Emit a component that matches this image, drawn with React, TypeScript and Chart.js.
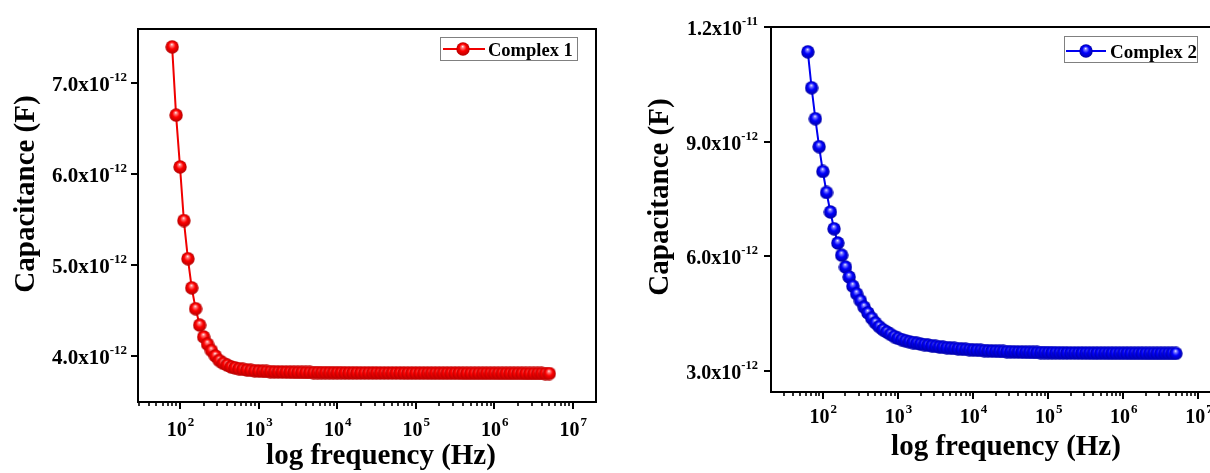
import React, { useEffect, useRef } from "react";
import { Chart, registerables } from "chart.js";

Chart.register(...registerables);

// ---------- DATA ----------
// Measurement frequencies (Hz), log sweep
const frequencyHz = [
  63.1, 70.8, 79.4, 89.1, 100, 112, 126, 141, 158, 178,
  200, 224, 251, 282, 316, 355, 398, 447, 501, 562,
  631, 708, 794, 891, 1000, 1122, 1259, 1413, 1585, 1778,
  1995, 2239, 2512, 2818, 3162, 3548, 3981, 4467, 5012, 5623,
  6310, 7079, 7943, 8913, 10000, 11220, 12589, 14125, 15849, 17783,
  19953, 22387, 25119, 28184, 31623, 35481, 39811, 44668, 50119, 56234,
  63096, 70795, 79433, 89125, 100000, 112202, 125893, 141254, 158489, 177828,
  199526, 223872, 251189, 281838, 316228, 354813, 398107, 446684, 501187, 562341,
  630957, 707946, 794328, 891251, 1000000, 1122018, 1258925, 1412538, 1584893, 1778279,
  1995262, 2238721, 2511886, 2818383, 3162278, 3548134, 3981072, 4466836, 5011872,
];

// Complex 1 capacitance (pF), starting at frequencyHz[2]
const complex1CapPF = [
  7.40, 6.65, 6.08, 5.49, 5.07, 4.75, 4.52, 4.34, 4.21, 4.13,
  4.06, 4.00, 3.95, 3.92, 3.90, 3.88, 3.87, 3.86, 3.853, 3.847,
  3.842, 3.838, 3.835, 3.832, 3.830, 3.828, 3.826, 3.825, 3.824, 3.823,
  3.822, 3.821, 3.820, 3.820, 3.819, 3.819, 3.818, 3.818, 3.817, 3.817,
  3.817, 3.816, 3.816, 3.816, 3.815, 3.815, 3.815, 3.815, 3.814, 3.814,
  3.814, 3.814, 3.814, 3.813, 3.813, 3.813, 3.813, 3.813, 3.813, 3.812,
  3.812, 3.812, 3.812, 3.812, 3.812, 3.812, 3.811, 3.811, 3.811, 3.811,
  3.811, 3.811, 3.811, 3.811, 3.810, 3.810, 3.810, 3.810, 3.810, 3.810,
  3.810, 3.810, 3.810, 3.809, 3.809, 3.809, 3.809, 3.809, 3.809, 3.809,
  3.808, 3.808, 3.808, 3.808, 3.808, 3.807, 3.807,
];
const complex1StartIndex = 2;

// Complex 2 capacitance (pF), starting at frequencyHz[0]
const complex2CapPF = [
  11.35, 10.41, 9.60, 8.87, 8.22, 7.67, 7.16, 6.72, 6.35, 6.03,
  5.72, 5.46, 5.22, 5.02, 4.84, 4.67, 4.52, 4.38, 4.26, 4.16,
  4.08, 4.02, 3.96, 3.90, 3.855, 3.82, 3.79, 3.765, 3.745, 3.725,
  3.705, 3.69, 3.675, 3.66, 3.645, 3.632, 3.62, 3.61, 3.60, 3.59,
  3.582, 3.574, 3.566, 3.559, 3.552, 3.546, 3.54, 3.534, 3.529, 3.524,
  3.519, 3.515, 3.511, 3.507, 3.503, 3.50, 3.497, 3.494, 3.491, 3.489,
  3.487, 3.485, 3.483, 3.481, 3.479, 3.477, 3.476, 3.475, 3.474, 3.473,
  3.472, 3.471, 3.470, 3.469, 3.468, 3.468, 3.467, 3.467, 3.466, 3.466,
  3.465, 3.465, 3.465, 3.464, 3.464, 3.464, 3.463, 3.463, 3.463, 3.463,
  3.462, 3.462, 3.462, 3.462, 3.461, 3.461, 3.461, 3.461, 3.460,
];
const complex2StartIndex = 0;

const yTicksLeftPF = [4, 5, 6, 7];
const yTicksRightPF = [3, 6, 9, 12];
const xTickExponents = [2, 3, 4, 5, 6, 7];

const seriesLabels = ["Complex 1", "Complex 2"];
const yTitle = "Capacitance (F)";
const xTitle = "log frequency (Hz)";

const PICO = 1e-12;
const FONT = "'Liberation Serif', 'Times New Roman', serif";

// ---------- helpers ----------
function makeSphere(d: number, light: string, base: string, dark: string) {
  const c = document.createElement("canvas");
  c.width = d;
  c.height = d;
  const g = c.getContext("2d")!;
  const r = d / 2;
  const grad = g.createRadialGradient(r * 0.95, r * 0.62, 0, r, r, r);
  grad.addColorStop(0, "#ffffff");
  grad.addColorStop(0.18, light);
  grad.addColorStop(0.5, base);
  grad.addColorStop(1, dark);
  g.fillStyle = grad;
  g.beginPath();
  g.arc(r, r, r - 0.3, 0, Math.PI * 2);
  g.fill();
  return c;
}

function sciParts(vF: number) {
  const e = Math.floor(Math.log10(vF) + 1e-9);
  const m = vF / Math.pow(10, e);
  return { base: m.toFixed(1) + "x10", exp: String(e) };
}

type DecoCfg = {
  frameRight: boolean;
  yTicksPF: number[];
  yLabelGap: number;
  yFont: number;
  yExpFont: number;
  xLabelDy: number;
  xExpDy: number;
  xFont: number;
  xExpFont: number;
  yTitlePos: [number, number];
  xTitlePos: [number, number];
  titleFont: number;
  legend: { x0: number; y0: number; x1: number; y1: number; lx0: number; lx1: number; ly: number; mx: number; tx: number; ty: number; font: number };
  label: string;
  color: string;
  sphere: HTMLCanvasElement;
};

function makeDeco(id: string, cfg: DecoCfg) {
  return {
    id,
    afterDraw(chart: any) {
      const { ctx, chartArea } = chart;
      const xs = chart.scales.x;
      const ys = chart.scales.y;
      const { left, right, top, bottom } = chartArea;
      ctx.save();
      ctx.strokeStyle = "#000";
      ctx.fillStyle = "#000";
      ctx.lineWidth = 2;
      ctx.lineCap = "square";
      // frame
      ctx.beginPath();
      ctx.moveTo(left, top);
      ctx.lineTo(left, bottom);
      ctx.lineTo(right, bottom);
      if (cfg.frameRight) ctx.lineTo(right, top);
      else ctx.moveTo(right + 20, top);
      ctx.lineTo(left, top);
      ctx.stroke();
      ctx.lineCap = "butt";

      // y ticks + labels
      for (const v of cfg.yTicksPF) {
        const py = Math.round(ys.getPixelForValue(v * PICO));
        ctx.lineWidth = 2;
        ctx.beginPath();
        ctx.moveTo(left - 7, py);
        ctx.lineTo(left, py);
        ctx.stroke();
        const { base, exp } = sciParts(v * PICO);
        ctx.font = `bold ${cfg.yExpFont}px ${FONT}`;
        const we = ctx.measureText(exp).width;
        ctx.font = `bold ${cfg.yFont}px ${FONT}`;
        const wb = ctx.measureText(base).width;
        const xr = left - cfg.yLabelGap;
        ctx.textAlign = "left";
        ctx.textBaseline = "alphabetic";
        ctx.fillText(base, xr - we - wb, py + 8);
        ctx.font = `bold ${cfg.yExpFont}px ${FONT}`;
        ctx.fillText(exp, xr - we, py - 2);
      }

      // x ticks (major+minor)
      const lo = Math.floor(Math.log10(xs.min));
      const hi = Math.ceil(Math.log10(xs.max));
      for (let n = lo; n <= hi; n++) {
        for (let m = 1; m <= 9; m++) {
          const v = m * Math.pow(10, n);
          if (v < xs.min || v > xs.max) continue;
          const px = Math.round(xs.getPixelForValue(v));
          const major = m === 1;
          ctx.lineWidth = major ? 2 : 1.6;
          ctx.beginPath();
          ctx.moveTo(px, bottom);
          ctx.lineTo(px, bottom + (major ? 7 : 4));
          ctx.stroke();
        }
      }
      for (const e of xTickExponents) {
        const v = Math.pow(10, e);
        const px = xs.getPixelForValue(v);
        ctx.font = `bold ${cfg.xFont}px ${FONT}`;
        const wb = ctx.measureText("10").width;
        ctx.font = `bold ${cfg.xExpFont}px ${FONT}`;
        const we = ctx.measureText(String(e)).width;
        const x0 = px - (wb + we) / 2;
        ctx.textAlign = "left";
        ctx.textBaseline = "alphabetic";
        ctx.font = `bold ${cfg.xFont}px ${FONT}`;
        ctx.fillText("10", x0, bottom + cfg.xLabelDy);
        ctx.font = `bold ${cfg.xExpFont}px ${FONT}`;
        ctx.fillText(String(e), x0 + wb + 1, bottom + cfg.xExpDy);
      }

      // axis titles
      ctx.font = `bold ${cfg.titleFont}px ${FONT}`;
      ctx.textAlign = "center";
      ctx.textBaseline = "alphabetic";
      ctx.fillText(xTitle, cfg.xTitlePos[0], cfg.xTitlePos[1]);
      ctx.save();
      ctx.translate(cfg.yTitlePos[0], cfg.yTitlePos[1]);
      ctx.rotate(-Math.PI / 2);
      ctx.fillText(yTitle, 0, 0);
      ctx.restore();

      // legend
      const L = cfg.legend;
      ctx.strokeStyle = "#808080";
      ctx.lineWidth = 1;
      ctx.strokeRect(L.x0 + 0.5, L.y0 + 0.5, L.x1 - L.x0, L.y1 - L.y0);
      ctx.strokeStyle = cfg.color;
      ctx.lineWidth = 2;
      ctx.beginPath();
      ctx.moveTo(L.lx0, L.ly);
      ctx.lineTo(L.lx1, L.ly);
      ctx.stroke();
      const s = cfg.sphere;
      ctx.drawImage(s, L.mx - s.width / 2, L.ly - s.height / 2);
      ctx.fillStyle = "#000";
      ctx.font = `bold ${L.font}px ${FONT}`;
      ctx.textAlign = "left";
      ctx.fillText(cfg.label, L.tx, L.ty);
      ctx.restore();
    },
  };
}

function buildConfig(opts: {
  points: { x: number; y: number }[];
  color: string;
  sphere: HTMLCanvasElement;
  label: string;
  xMin: number;
  xMax: number;
  yMin: number;
  yMax: number;
  padTop: number;
  padRight: number;
  yWidth: number;
  xHeight: number;
  deco: any;
}) {
  return {
    type: "line" as const,
    data: {
      datasets: [
        {
          label: opts.label,
          data: opts.points,
          borderColor: opts.color,
          borderWidth: 2,
          pointStyle: opts.sphere,
          pointRadius: 7,
          pointHoverRadius: 7,
          fill: false,
          tension: 0,
        },
      ],
    },
    options: {
      responsive: false,
      animation: false,
      devicePixelRatio: 1,
      events: [],
      layout: { padding: { top: opts.padTop, right: opts.padRight, left: 0, bottom: 0 } },
      plugins: { legend: { display: false }, tooltip: { enabled: false }, title: { display: false } },
      scales: {
        x: {
          type: "logarithmic",
          min: opts.xMin,
          max: opts.xMax,
          grid: { display: false, drawTicks: false },
          border: { display: false },
          ticks: { display: false },
          afterFit: (s: any) => {
            s.height = opts.xHeight;
          },
        },
        y: {
          type: "linear",
          min: opts.yMin,
          max: opts.yMax,
          grid: { display: false, drawTicks: false },
          border: { display: false },
          ticks: { display: false },
          afterFit: (s: any) => {
            s.width = opts.yWidth;
          },
        },
      },
    },
    plugins: [opts.deco],
  };
}

export default function App() {
  const ref1 = useRef<HTMLCanvasElement>(null);
  const ref2 = useRef<HTMLCanvasElement>(null);

  useEffect(() => {
    const red = "#f00000";
    const blue = "#0000f0";
    const redSphere = makeSphere(14, "#ff8080", "#ff0000", "#b00000");
    const blueSphere = makeSphere(14, "#8080ff", "#0000ff", "#0000a0");

    const pts1 = complex1CapPF.map((v, i) => ({ x: frequencyHz[i + complex1StartIndex], y: v * PICO }));
    const pts2 = complex2CapPF.map((v, i) => ({ x: frequencyHz[i + complex2StartIndex], y: v * PICO }));

    const deco1 = makeDeco("deco1", {
      frameRight: true,
      yTicksPF: yTicksLeftPF,
      yLabelGap: 11,
      yFont: 21,
      yExpFont: 13,
      xLabelDy: 34,
      xExpDy: 24,
      xFont: 20,
      xExpFont: 13,
      yTitlePos: [34, 194],
      xTitlePos: [381, 464],
      titleFont: 29,
      legend: { x0: 440, y0: 37, x1: 577, y1: 60, lx0: 443, lx1: 485, ly: 49, mx: 463, tx: 488, ty: 56, font: 18.5 },
      label: seriesLabels[0],
      color: red,
      sphere: redSphere,
    });
    const deco2 = makeDeco("deco2", {
      frameRight: false,
      yTicksPF: yTicksRightPF,
      yLabelGap: 13,
      yFont: 20,
      yExpFont: 12.5,
      xLabelDy: 31,
      xExpDy: 21,
      xFont: 20,
      xExpFont: 13,
      yTitlePos: [63, 197],
      xTitlePos: [401, 455],
      titleFont: 29,
      legend: { x0: 459, y0: 36, x1: 592, y1: 62, lx0: 461, lx1: 501, ly: 51, mx: 481, tx: 505, ty: 58, font: 19 },
      label: seriesLabels[1],
      color: blue,
      sphere: blueSphere,
    });

    const c1 = new Chart(
      ref1.current!,
      buildConfig({
        points: pts1,
        color: red,
        sphere: redSphere,
        label: seriesLabels[0],
        xMin: 29.2,
        xMax: 1.97e7,
        yMin: 3.494 * PICO,
        yMax: 7.597 * PICO,
        padTop: 29,
        padRight: 6,
        yWidth: 138,
        xHeight: 71,
        deco: deco1,
      }) as any
    );
    const c2 = new Chart(
      ref2.current!,
      buildConfig({
        points: pts2,
        color: blue,
        sphere: blueSphere,
        label: seriesLabels[1],
        xMin: 20.4,
        xMax: 2e7,
        yMin: 2.45 * PICO,
        yMax: 12.0 * PICO,
        padTop: 27,
        padRight: 8,
        yWidth: 166,
        xHeight: 81,
        deco: deco2,
      }) as any
    );
    return () => {
      c1.destroy();
      c2.destroy();
    };
  }, []);

  return (
    <div
      style={{
        position: "absolute",
        left: 0,
        top: 0,
        width: 1210,
        height: 473,
        overflow: "hidden",
        background: "#ffffff",
      }}
    >
      <canvas ref={ref1} width={605} height={473} style={{ position: "absolute", left: 0, top: 0 }} />
      <canvas ref={ref2} width={625} height={473} style={{ position: "absolute", left: 605, top: 0 }} />
    </div>
  );
}
